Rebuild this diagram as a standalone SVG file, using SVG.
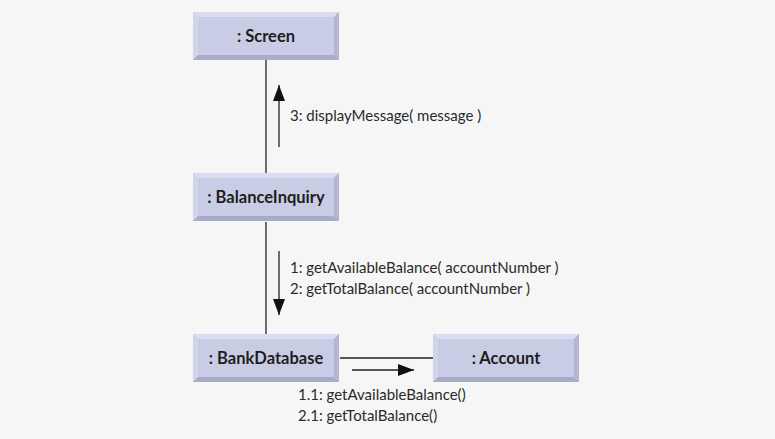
<svg xmlns="http://www.w3.org/2000/svg" width="775" height="439" viewBox="0 0 775 439">
<defs>
<style>
.bg{fill:#f6f6f6}
.face{fill:#c9cce5}
.bt{fill:#dadded}
.bl{fill:#d2d5ea}
.br{fill:#b2b6d4}
.bb{fill:#a8accb}
.lbl{font-family:Lato,"Open Sans",sans-serif;font-weight:bold;font-size:16.5px;fill:#1e1e1e;text-anchor:middle}
.msg{font-family:Lato,"Open Sans",sans-serif;font-size:15px;fill:#2a2a2a}
.ln{stroke:#222;stroke-width:1.3;fill:none}
</style>
<marker id="ah" viewBox="0 0 16 12" refX="16" refY="6" markerWidth="16" markerHeight="12" markerUnits="userSpaceOnUse" orient="auto">
<path d="M0,0 L16,6 L0,12 z" fill="#111"/>
</marker>
<g id="bevel">
<rect class="face" x="0" y="0" width="146" height="48"/>
<polygon class="bt" points="0,0 146,0 141,5 5,5"/>
<polygon class="bl" points="0,0 5,5 5,43 0,48"/>
<polygon class="br" points="146,0 146,48 141,43 141,5"/>
<polygon class="bb" points="0,48 5,43 141,43 146,48"/>
</g>
</defs>
<rect class="bg" x="0" y="0" width="775" height="439"/>
<g id="connectors">
<line class="ln" x1="266" y1="60" x2="266" y2="173"/>
<line class="ln" x1="266" y1="222" x2="266" y2="334"/>
<line class="ln" x1="340" y1="358" x2="433" y2="358"/>
<line class="ln" x1="279" y1="147" x2="279" y2="85" marker-end="url(#ah)" stroke-width="1.5"/>
<line class="ln" x1="279" y1="251" x2="279" y2="315" marker-end="url(#ah)" stroke-width="1.5"/>
<line class="ln" x1="352" y1="370" x2="414" y2="370" marker-end="url(#ah)" stroke-width="1.5"/>
<text class="msg" x="290" y="121">3: displayMessage( message )</text>
<text class="msg" x="290" y="273">1: getAvailableBalance( accountNumber )</text>
<text class="msg" x="290" y="294">2: getTotalBalance( accountNumber )</text>
<text class="msg" x="298" y="400">1.1: getAvailableBalance()</text>
<text class="msg" x="298" y="421">2.1: getTotalBalance()</text>
</g>
<g id="screen">
<use href="#bevel" x="193" y="12"/>
<text class="lbl" x="266" y="42">: Screen</text>
</g>
<g id="balanceInquiry">
<use href="#bevel" x="193" y="173"/>
<text class="lbl" x="266" y="203">: BalanceInquiry</text>
</g>
<g id="bankDatabase">
<use href="#bevel" x="193" y="334"/>
<text class="lbl" x="266" y="364">: BankDatabase</text>
</g>
<g id="account">
<use href="#bevel" x="433" y="334"/>
<text class="lbl" x="506" y="364">: Account</text>
</g>
</svg>
